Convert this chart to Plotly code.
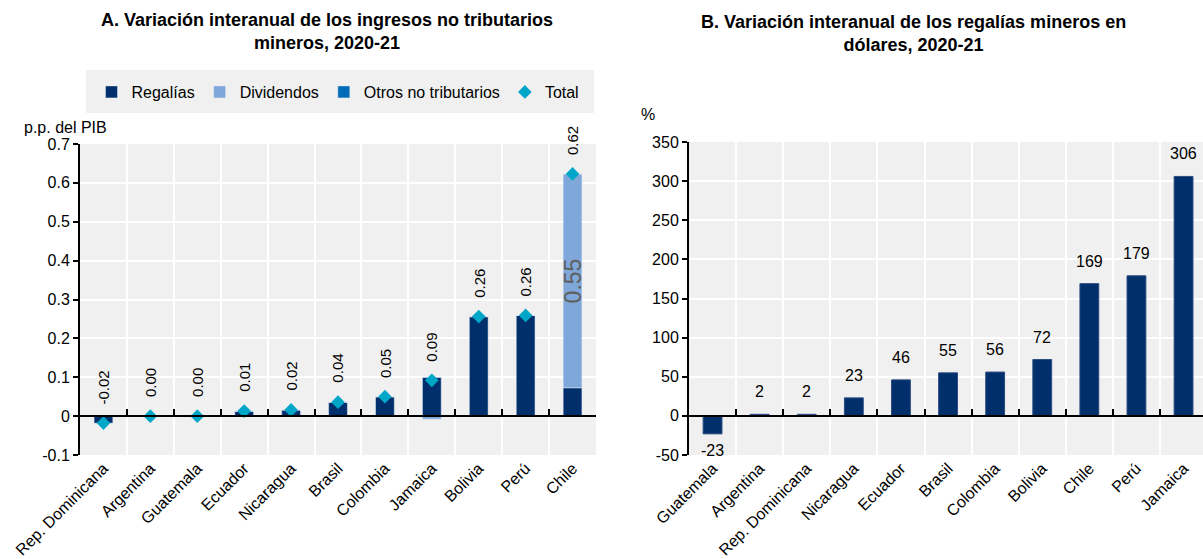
import plotly.graph_objects as go

# ---- Panel A: contributions to the change in non-tax mining revenue (p.p. of GDP)
paises_a = ["Rep. Dominicana", "Argentina", "Guatemala", "Ecuador", "Nicaragua",
            "Brasil", "Colombia", "Jamaica", "Bolivia", "Perú", "Chile"]
regalias_a = [-0.018, 0.0, 0.0, 0.013, 0.016, 0.036, 0.050, 0.100, 0.256, 0.259, 0.073]
dividendos_a = [0.0, 0.0, 0.0, 0.0, 0.0, 0.0, 0.0, -0.008, 0.0, 0.0, 0.550]
otros_a = [0.0, 0.0, 0.0, 0.0, 0.0, 0.0, 0.0, 0.0, 0.0, 0.0, 0.0]
total_a = [r + d + o for r, d, o in zip(regalias_a, dividendos_a, otros_a)]
yticks_a = [-0.1, 0, 0.1, 0.2, 0.3, 0.4, 0.5, 0.6, 0.7]
yticktext_a = ["-0.1", "0", "0.1", "0.2", "0.3", "0.4", "0.5", "0.6", "0.7"]

# ---- Panel B: year-on-year change in mining royalties in dollars (%)
paises_b = ["Guatemala", "Argentina", "Rep. Dominicana", "Nicaragua", "Ecuador",
            "Brasil", "Colombia", "Bolivia", "Chile", "Perú", "Jamaica"]
regalias_b = [-23, 2, 2, 23, 46, 55, 56, 72, 169, 179, 306]
yticks_b = [-50, 0, 50, 100, 150, 200, 250, 300, 350]
yticktext_b = ["-50", "0", "50", "100", "150", "200", "250", "300", "350"]

NAVY = "#002F6C"
LIGHT = "#7FA7D9"
MID = "#006BB6"
CYAN = "#00A6C8"
BG = "#F0F0F0"
FONT = "Liberation Sans, Arial"

W, H = 1203, 559


def fx(px):
    return px / W


def fy(py):
    return 1 - py / H


# plot areas (pixel frame)
A_X0, A_X1, A_Y0, A_Y1 = 80, 596, 144, 455
B_X0, B_X1, B_Y0, B_Y1 = 689, 1203, 142, 455
B_CAT_W = 47.1

fig = go.Figure()

fig.add_trace(go.Bar(x=paises_a, y=regalias_a, name="Regalías", marker_color=NAVY,
                     width=0.4, xaxis="x", yaxis="y"))
fig.add_trace(go.Bar(x=paises_a, y=dividendos_a, name="Dividendos", marker_color=LIGHT,
                     width=0.4, xaxis="x", yaxis="y"))
fig.add_trace(go.Bar(x=paises_a, y=otros_a, name="Otros no tributarios", marker_color=MID,
                     width=0.4, xaxis="x", yaxis="y"))
fig.add_trace(go.Scatter(x=paises_a, y=total_a, name="Total", mode="markers",
                         marker=dict(symbol="diamond", size=10.5, color=CYAN),
                         xaxis="x", yaxis="y"))

fig.add_trace(go.Bar(x=paises_b, y=regalias_b, marker=dict(color=NAVY, line=dict(color="#2B4C80", width=1)),
                     width=0.4, showlegend=False, xaxis="x2", yaxis="y2"))

# helper traces so the zero-line tick axes get drawn
fig.add_trace(go.Scatter(x=[None], y=[None], xaxis="x3", yaxis="y", showlegend=False, hoverinfo="skip"))
fig.add_trace(go.Scatter(x=[None], y=[None], xaxis="x4", yaxis="y2", showlegend=False, hoverinfo="skip"))

ydom_a = [fy(A_Y1), fy(A_Y0)]
ydom_b = [fy(B_Y1), fy(B_Y0)]
zero_a = ydom_a[0] + (0 - yticks_a[0]) / (yticks_a[-1] - yticks_a[0]) * (ydom_a[1] - ydom_a[0])
zero_b = ydom_b[0] + (0 - yticks_b[0]) / (yticks_b[-1] - yticks_b[0]) * (ydom_b[1] - ydom_b[0])
b_hi = -0.5 + (B_X1 - B_X0) / B_CAT_W

cat_x = dict(type="category", tickson="boundaries", showgrid=True, gridcolor="white", gridwidth=2,
             ticks="", showline=False, tickangle=-45, automargin=False,
             tickfont=dict(size=16, color="black", family=FONT))
val_y = dict(showline=True, linecolor="black", linewidth=2, ticks="outside", ticklen=5,
             tickcolor="black", tickwidth=2, gridcolor="white", gridwidth=2, zeroline=False,
             automargin=False, tickfont=dict(size=16, color="black", family=FONT))
tick_x = dict(anchor="free", showline=True, linecolor="black", linewidth=2, ticks="inside",
              ticklen=6, tickcolor="black", tickwidth=2, showgrid=False, zeroline=False,
              showticklabels=False, automargin=False)

fig.update_layout(
    width=W, height=H, margin=dict(l=0, r=0, t=0, b=0, autoexpand=False),
    paper_bgcolor="white", plot_bgcolor=BG, barmode="relative",
    font=dict(family=FONT, size=16, color="black"),
    xaxis=dict(domain=[fx(A_X0), fx(A_X1)], anchor="y", range=[-0.5, 10.5], **cat_x),
    yaxis=dict(domain=ydom_a, anchor="x", range=[yticks_a[0], yticks_a[-1]],
               tickvals=yticks_a, ticktext=yticktext_a, **val_y),
    xaxis2=dict(domain=[fx(B_X0), 1.0], anchor="y2", range=[-0.5, b_hi], **cat_x),
    yaxis2=dict(domain=ydom_b, anchor="x2", range=[yticks_b[0], yticks_b[-1]],
                tickvals=yticks_b, ticktext=yticktext_b, **val_y),
    xaxis3=dict(overlaying="x", position=zero_a, range=[-0.5, 10.5],
                tickvals=[i + 0.5 for i in range(len(paises_a) - 1)], **tick_x),
    xaxis4=dict(overlaying="x2", position=zero_b, range=[-0.5, b_hi],
                tickvals=[i + 0.5 for i in range(len(paises_b) - 1)], **tick_x),
    legend=dict(orientation="h", x=(fx(A_X0) + fx(A_X1)) / 2, xanchor="center",
                y=fy(92), yanchor="middle", bgcolor="rgba(0,0,0,0)",
                font=dict(size=16, family=FONT), traceorder="normal"),
    showlegend=True,
)

# legend panel
fig.add_shape(type="rect", xref="paper", yref="paper", x0=fx(86), x1=fx(594), y0=fy(113), y1=fy(70),
              fillcolor=BG, line=dict(width=0), layer="below")

annotations = []
# titles
annotations.append(dict(text="<b>A. Variación interanual de los ingresos no tributarios<br>mineros, 2020-21</b>",
                        x=fx(327), y=fy(8), xref="paper", yref="paper", xanchor="center", yanchor="top",
                        showarrow=False, font=dict(size=18, family=FONT)))
annotations.append(dict(text="<b>B. Variación interanual de los regalías mineros en<br>dólares, 2020-21</b>",
                        x=fx(913), y=fy(10), xref="paper", yref="paper", xanchor="center", yanchor="top",
                        showarrow=False, font=dict(size=18, family=FONT)))
# unit labels
annotations.append(dict(text="p.p. del PIB", x=fx(22), y=fy(128), xref="paper", yref="paper",
                        xanchor="left", yanchor="middle", showarrow=False, font=dict(size=16)))
annotations.append(dict(text="%", x=fx(639), y=fy(114), xref="paper", yref="paper",
                        xanchor="left", yanchor="middle", showarrow=False, font=dict(size=16)))

# panel A: total labels above the diamonds
for c, t in zip(paises_a, total_a):
    annotations.append(dict(x=c, y=t, xref="x", yref="y", text=f"{t:.2f}", textangle=-90,
                            xanchor="center", yanchor="bottom", yshift=17, showarrow=False,
                            font=dict(size=15, color="black")))
# panel A: dividend value inside the Chile bar
for c, r, d in zip(paises_a, regalias_a, dividendos_a):
    if d > 0.1:
        annotations.append(dict(x=c, y=r + d / 2, xref="x", yref="y", text=f"{d:.2f}", textangle=-90,
                                xanchor="center", yanchor="middle", showarrow=False,
                                font=dict(size=23, color="#5F5F5F")))
# panel B: value labels
for c, v in zip(paises_b, regalias_b):
    annotations.append(dict(x=c, y=v, xref="x2", yref="y2", text=f"{v:.0f}",
                            xanchor="center", yanchor="bottom" if v >= 0 else "top",
                            yshift=12 if v >= 0 else -6, showarrow=False,
                            font=dict(size=16, color="black")))

fig.update_layout(annotations=annotations)

fig.write_html("out.html")
